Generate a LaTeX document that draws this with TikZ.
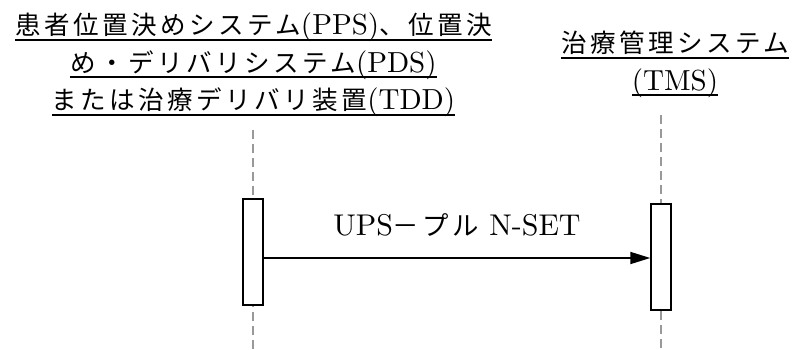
\documentclass[tikz,border=0pt]{standalone}
\usepackage{fontspec}
\setmainfont{lmroman10-regular}[Extension=.otf]
\newfontfamily\jpfont[Scale=0.88,LetterSpace=13.6]{Noto Sans CJK JP}
\usetikzlibrary{arrows.meta,positioning}
\newcommand\underrule[1]{\setbox0\hbox{#1}\rlap{\rule[-5.8pt]{\wd0}{1.8pt}}\box0}
\tikzset{
head_text/.style={
	% the titles above each lifeline
	inner sep=0pt,
	align=center,
	anchor=north,
	font=\fontsize{29}{37.5}\selectfont
},
life_line/.style={
	draw=gray!80,
	line width=1.5pt,
	dash pattern=on 9pt off 5pt
},
act_box/.style={
	% The shape:
	rectangle,
	minimum width=20pt,
	minimum height=106pt,
	inner sep=0pt,
	% The border:
	line width=1.5pt,
	draw=black,
	fill=white
},
msg_arrow/.style={
	line width=1.8pt,
	-{Triangle[length=20pt,width=12pt]}
}
}

\begin{document}
\begin{tikzpicture}[x=1pt,y=1pt]
			\useasboundingbox (0,0) rectangle (793,349);
			\node[head_text] (pps_head) at (253.5,336)
				{\underrule{{\jpfont 患者位置決めシステム}(PPS){\jpfont 、位置決}}\\
				\underrule{{\jpfont め・デリバリシステム}(PDS)}\\
				\underrule{{\jpfont または治療デリバリ装置}(TDD)}};
			\node[head_text] (tms_head) at (675,318)
				{\underrule{\jpfont 治療管理システム}\\
				\underrule{(TMS)}};

			% lifelines
			\coordinate (pps_top) at (253,219);
			\coordinate (pps_bot) at (253,0);
			\coordinate (tms_top) at (661,234);
			\coordinate (tms_bot) at (661,0);
			\draw[life_line] (pps_top) -- (pps_bot);
			\draw[life_line] (tms_top) -- (tms_bot);

			% activations
			\node[act_box] (pps_box) at (253,97) {};
			\node[act_box] (tms_box) at (661,92) {};

			\coordinate (msg_start) at ([yshift=-6pt]pps_box.east);
			\draw[msg_arrow] (msg_start) -- node[anchor=base,yshift=23pt,inner sep=0pt,font=\fontsize{30}{36}\selectfont] (msg_text) {UPS{\jpfont －プル} N-SET} (msg_start -| tms_box.west);
		\end{tikzpicture}
\end{document}
